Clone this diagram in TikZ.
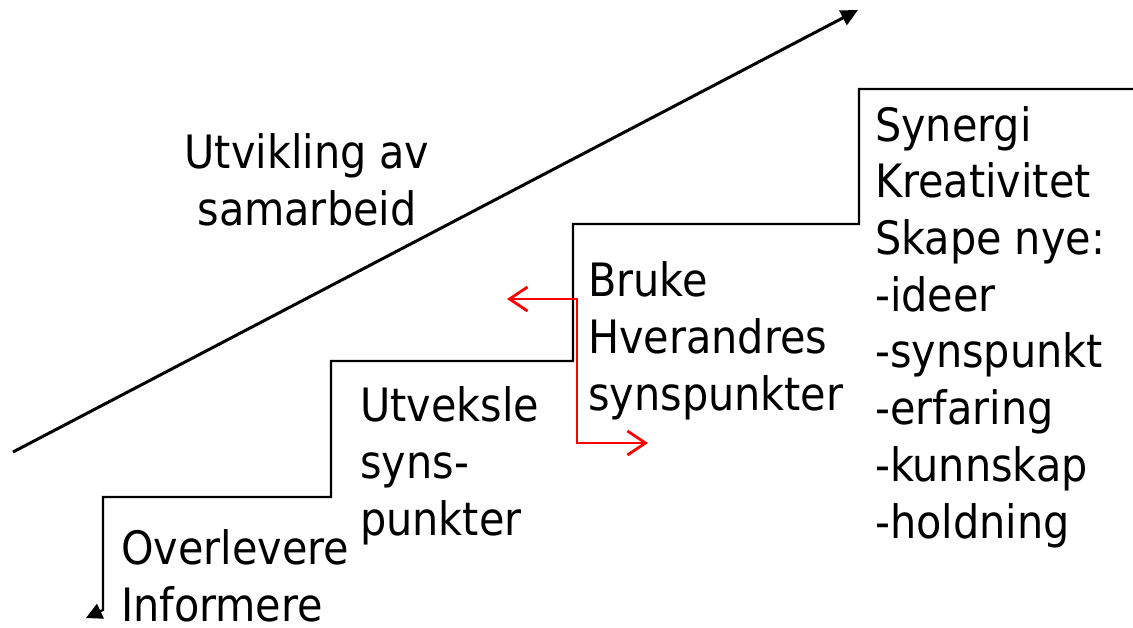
\documentclass[tikz,border=0pt]{standalone}
\usepackage{fontspec}
\setmainfont{DejaVu Sans Condensed}
\usetikzlibrary{arrows.meta}
\tikzset{steptext/.style={anchor=base west, align=left, inner sep=0pt, font=\fontsize{46}{56.7}\selectfont}}

\begin{document}
\begin{tikzpicture}[x=1pt,y=-1pt]
\useasboundingbox (0,0) rectangle (1133,627);
\node[steptext] (synergi) at (875,538) {Synergi\\Kreativitet\\Skape nye:\\-ideer\\-synspunkt\\-erfaring\\-kunnskap\\-holdning};
\node[steptext] (bruke) at (588,410) {Bruke\\Hverandres\\synspunkter};
\node[steptext] (utveksle) at (360,535) {Utveksle\\syns-\\punkter};
\node[steptext] (overlevere) at (121,621) {Overlevere\\Informere};
\node[steptext, anchor=base, align=center] (utvikling) at (307,225) {Utvikling av\\samarbeid};
\coordinate (c0) at (1133,89);
\coordinate (c1) at (859,89);
\coordinate (c2) at (859,224);
\coordinate (c3) at (573,224);
\coordinate (c4) at (573,361);
\coordinate (c5) at (331,361);
\coordinate (c6) at (331,497);
\coordinate (c7) at (103,497);
\coordinate (c8) at (103,610);
\coordinate (c9) at (86,618);
\coordinate (trendlow) at (13,452);
\coordinate (trendhigh) at (858,10);
\coordinate (r1) at (507,299);
\coordinate (r2) at (577,299);
\coordinate (r3) at (577,443);
\coordinate (r4) at (648,443);
\path[draw,line width=2.2pt,-{Triangle[length=16pt,width=16pt]}] (c0) -- (c1) -- (c2) -- (c3) -- (c4) -- (c5) -- (c6) -- (c7) -- (c8) -- (c9);
\path[draw,line width=3pt,-{Triangle[length=17pt,width=16pt]}] (trendlow) -- (trendhigh);
\path[draw,red,line width=2.8pt,{Straight Barb[length=18pt,width=24pt]}-{Straight Barb[length=18pt,width=24pt]}] (r1) -- (r2) -- (r3) -- (r4);
\end{tikzpicture}
\end{document}
